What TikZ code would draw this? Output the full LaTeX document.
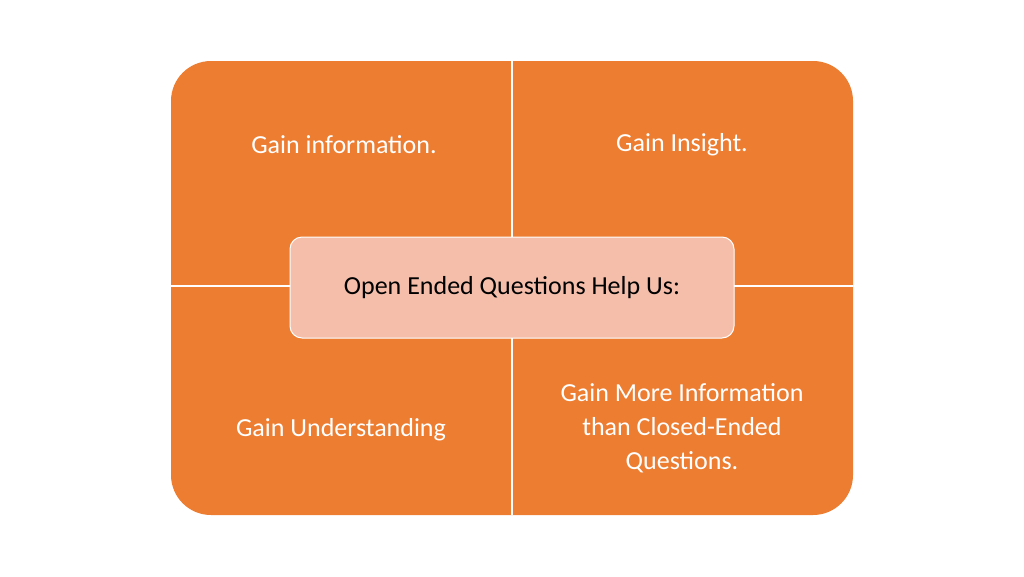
\documentclass[tikz,border=0pt]{standalone}
\usepackage{fontspec}
\setmainfont{Carlito}
\usetikzlibrary{positioning}
\definecolor{quadorange}{HTML}{ED7D31}
\definecolor{hubpink}{HTML}{F4BEAB}
\begin{document}
\begin{tikzpicture}[x=1pt,y=-1pt]
            \tikzset{quadtext/.style={white, font=\fontsize{26}{34}\selectfont, align=center}}
            \tikzset{divider/.style={white, line width=2pt}}
            \useasboundingbox (0,0) rectangle (1024,576);
            \fill[quadorange, rounded corners=40pt] (171,61) rectangle (853,515);
            \draw[divider] (511.5,61) -- (511.5,515);
            \draw[divider] (171,286) -- (853,286);
            \node[quadtext] (info) at (344,145) {Gain information.};
            \node[quadtext] (insight) at (682,145) {Gain Insight.};
            \node[quadtext] (understand) at (341,430) {Gain Understanding};
            \node[quadtext] (more) at (682,428) {Gain More Information\\than Closed-Ended\\Questions.};
            \node[fill=hubpink, draw=white, line width=1pt, rounded corners=12pt,
                  minimum width=444pt, minimum height=101pt,
                  font=\fontsize{26}{34}\selectfont] (hub) at (512,287.5) {Open Ended Questions Help Us:};
        \end{tikzpicture}
\end{document}
